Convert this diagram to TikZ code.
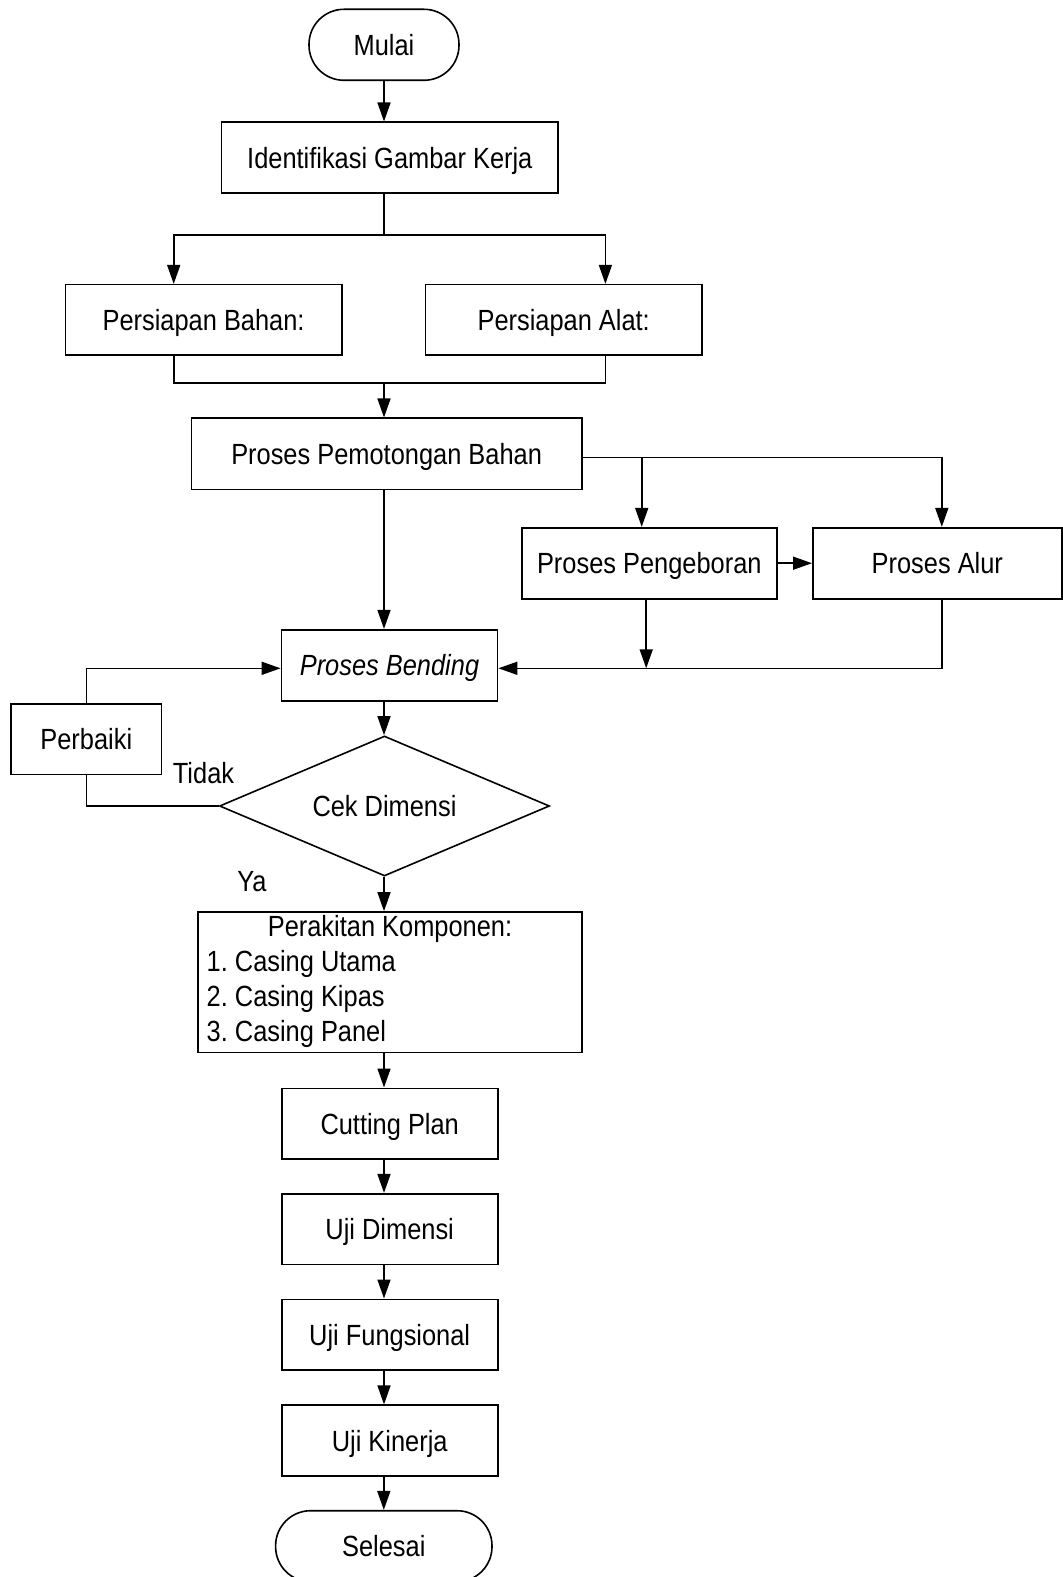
\documentclass[tikz,border=0pt]{standalone}
\usepackage{fontspec}
\setmainfont{Liberation Sans}[FakeStretch=0.87]
\usetikzlibrary{arrows.meta,shapes.geometric}
\begin{document}
\begin{tikzpicture}[x=0.5pt,y=-0.5pt,
  every node/.style={font=\fontsize{14.6pt}{17.5pt}\selectfont\frenchspacing},
  line width=0.8pt,
  box/.style={draw, rectangle, inner sep=0pt, text height=10.6pt, text depth=0pt},
  term/.style={draw, rectangle, rounded corners=17.5pt, inner sep=0pt, text height=10.6pt, text depth=0pt},
  dec/.style={draw, diamond, inner sep=0pt, aspect=2.357},
  lbl/.style={inner sep=0pt},
  arr/.style={-{Triangle[length=9.5pt,width=6.5pt]}}]
\useasboundingbox (0,0) rectangle (1063,1577);
% nodes
\node[term, minimum width=75pt, minimum height=35.5pt] (mulai) at (384,44.8) {Mulai};
\node[box, minimum width=168.2pt, minimum height=35.5pt] (ident) at (389.8,157.8) {Identifikasi Gambar Kerja};
\node[box, minimum width=138.2pt, minimum height=35.3pt] (bahan) at (203.6,320) {Persiapan Bahan:};
\node[box, minimum width=138.3pt, minimum height=35.3pt] (alat) at (563.7,320) {Persiapan Alat:};
\node[box, minimum width=195.3pt, minimum height=35.5pt] (potong) at (386.6,453.8) {Proses Pemotongan Bahan};
\node[box, minimum width=127.5pt, minimum height=35.5pt] (bor) at (649.3,563.2) {Proses Pengeboran};
\node[box, minimum width=124.5pt, minimum height=35.5pt] (alur) at (937.3,563.2) {Proses Alur};
\node[box, minimum width=108.1pt, minimum height=35.5pt] (bend) at (389.5,665.2) {\textit{Proses Bending}};
\node[box, minimum width=75.2pt, minimum height=35.3pt] (perbaiki) at (86.3,739.3) {Perbaiki};
\node[dec, minimum width=165pt, minimum height=70pt] (dia) at (384.5,806) {Cek Dimensi};
\node[draw, rectangle, minimum width=192.1pt, minimum height=70.3pt, inner xsep=4.4pt, inner ysep=0pt] (rakit) at (390,982.3)
  {\begin{tabular}{@{}l@{}}\makebox[183.3pt][c]{Perakitan Komponen:}\\1. Casing Utama\\2. Casing Kipas\\3. Casing Panel\end{tabular}};
\node[box, minimum width=108pt, minimum height=35.2pt] (cut) at (389.7,1123.5) {Cutting Plan};
\node[box, minimum width=108pt, minimum height=35.3pt] (ujid) at (389.7,1229) {Uji Dimensi};
\node[box, minimum width=108pt, minimum height=35.3pt] (ujif) at (389.7,1334.6) {Uji Fungsional};
\node[box, minimum width=108pt, minimum height=35.3pt] (ujik) at (389.7,1440.5) {Uji Kinerja};
\node[term, minimum width=108.2pt, minimum height=35.5pt] (selesai) at (383.8,1546.2) {Selesai};
\node[lbl] (tidak) at (203.5,773.5) {Tidak};
\node[lbl] (ya) at (252,882) {Ya};
% junction coordinates
\coordinate (jl) at (173.7,235.3);
\coordinate (jr) at (605.4,235.3);
\coordinate (ml) at (173.7,383.3);
\coordinate (mr) at (605.4,383.3);
\coordinate (pb) at (641.7,457.3);
\coordinate (pa) at (941.8,457.3);
\coordinate (ra) at (941.8,668.3);
\coordinate (rb) at (646.2,668.3);
\coordinate (lb) at (86.3,668.3);
% connectors
\draw[arr] (mulai.south) -- (mulai.south |- ident.north);
\draw (ident.south -| mulai) -- (mulai |- jl);
\draw[arr] (mulai |- jl) -- (jl) -- (jl |- bahan.north);
\draw[arr] (mulai |- jr) -- (jr) -- (jr |- alat.north);
\draw (ml |- bahan.south) -- (ml) -- (mr) -- (mr |- alat.south);
\draw[arr] (ml -| mulai) -- (potong.north -| mulai);
\draw[arr] (potong.south -| mulai) -- (bend.north -| mulai);
\draw[arr] (potong.east |- pb) -- (pa) -- (pa |- alur.north);
\draw[arr] (pb) -- (pb |- bor.north);
\draw[arr] (bor.east) -- (alur.west);
\draw[arr] (alur.south -| ra) -- (ra) -- (bend.east |- ra);
\draw[arr] (bor.south -| rb) -- (rb);
\draw[arr] (bend.south -| mulai) -- (dia.north -| mulai);
\draw (dia.west) -| (perbaiki.south);
\draw[arr] (perbaiki.north) -- (lb) -- (bend.west |- lb);
\draw[arr] (dia.south -| mulai) -- (rakit.north -| mulai);
\draw[arr] (rakit.south -| mulai) -- (cut.north -| mulai);
\draw[arr] (cut.south -| mulai) -- (ujid.north -| mulai);
\draw[arr] (ujid.south -| mulai) -- (ujif.north -| mulai);
\draw[arr] (ujif.south -| mulai) -- (ujik.north -| mulai);
\draw[arr] (ujik.south -| selesai) -- (selesai.north);
\end{tikzpicture}
\end{document}
